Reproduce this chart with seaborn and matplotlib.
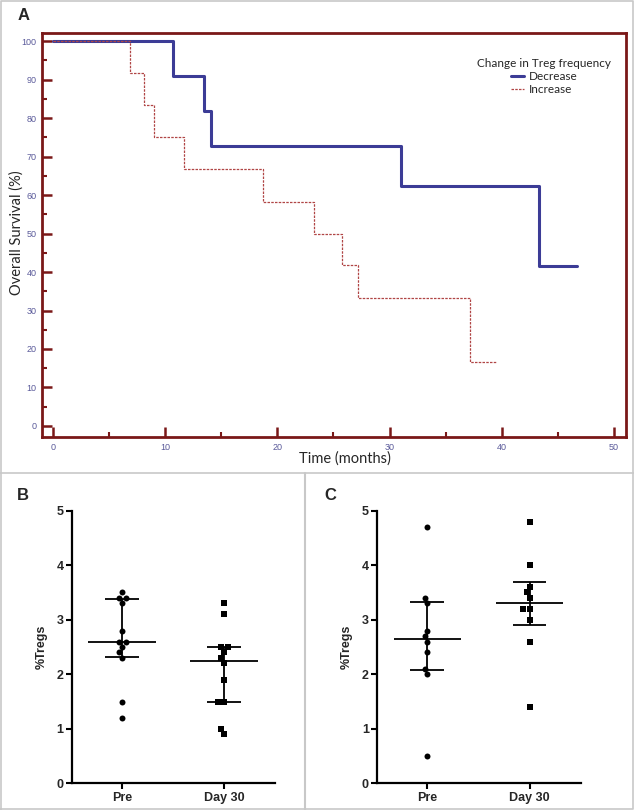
import numpy as np
import pandas as pd
import matplotlib
matplotlib.use('Agg')
import matplotlib.pyplot as plt
from matplotlib.lines import Line2D
import seaborn as sns

# panel A - Kaplan Meier steps (months, % survival)
dec_time = [0, 10.7, 13.5, 14.1, 31.0, 43.3, 46.7]
dec_surv = [100, 90.9, 81.8, 72.7, 62.3, 41.6, 41.6]
inc_time = [0, 6.9, 8.15, 9.0, 11.7, 18.7, 23.3, 25.8, 27.2, 37.2, 39.5]
inc_surv = [100, 91.7, 83.3, 75.0, 66.7, 58.3, 50.0, 41.7, 33.3, 16.7, 16.7]

# panel B - %Tregs
b_pre = [3.5, 3.4, 3.4, 3.3, 2.8, 2.6, 2.6, 2.5, 2.4, 2.3, 1.5, 1.2]
b_d30 = [3.3, 3.1, 2.5, 2.5, 2.4, 2.3, 2.2, 1.9, 1.5, 1.5, 1.0, 0.9]
# panel C - %Tregs
c_pre = [4.7, 3.4, 3.3, 2.8, 2.7, 2.6, 2.4, 2.1, 2.0, 0.5]
c_d30 = [4.8, 4.0, 3.6, 3.5, 3.4, 3.2, 3.2, 3.0, 2.6, 1.4]

groups = ['Pre', 'Day 30']

sns.set_style('white')
plt.rcParams['font.family'] = ['Liberation Sans', 'DejaVu Sans']

fig = plt.figure(figsize=(6.34, 8.10), dpi=100)

# ---- panel A ----
axA = fig.add_axes([0.0662, 0.4605, 0.9212, 0.4988])
km = pd.concat([
    pd.DataFrame({'Time': dec_time, 'Survival': dec_surv, 'Change': 'Decrease'}),
    pd.DataFrame({'Time': inc_time, 'Survival': inc_surv, 'Change': 'Increase'}),
])
sns.lineplot(data=km[km.Change == 'Decrease'], x='Time', y='Survival', ax=axA,
             color='#3c3c96', lw=2.2, drawstyle='steps-post', estimator=None,
             label='Decrease')
sns.lineplot(data=km[km.Change == 'Increase'], x='Time', y='Survival', ax=axA,
             color='#b04545', lw=0.9, linestyle=(0, (2, 1)), drawstyle='steps-post',
             estimator=None, label='Increase')
axA.set_xlim(-0.98, 51.07)
axA.set_ylim(-2.86, 102.1)
axA.set_xticks(range(0, 51, 10))
axA.set_xticks(range(5, 50, 10), minor=True)
axA.set_yticks(range(0, 101, 10))
axA.set_yticks(range(5, 100, 10), minor=True)
red = '#7a1818'
for s in axA.spines.values():
    s.set_color(red)
    s.set_linewidth(2)
axA.tick_params(which='major', direction='in', length=7, width=1.8, color=red,
                labelsize=6.5, labelcolor='#5a5a9a', pad=4, left=True, bottom=True)
axA.tick_params(which='minor', direction='in', length=3.5, width=1.5, color=red,
                left=True, bottom=True)
axA.set_xlabel('Time (months)', fontsize=10.5, family='Lato')
axA.set_ylabel('Overall Survival (%)', fontsize=10.5, family='Lato')
axA.xaxis.set_label_coords(0.519, -0.036)
axA.yaxis.set_label_coords(-0.031, 0.505)
leg = axA.legend(title='Change in Treg frequency', loc='upper right',
                 bbox_to_anchor=(0.993, 0.965), frameon=False,
                 title_fontsize=8.5, handlelength=1.1, handletextpad=0.4,
                 labelspacing=0.2, prop={'family': 'Lato', 'size': 8.5})
leg.get_title().set_family('Lato')

# ---- panels B and C ----
def scatter_panel(ax, pre, d30):
    df = pd.DataFrame({'Group': ['Pre'] * len(pre) + ['Day 30'] * len(d30),
                       'Tregs': pre + d30})
    sns.swarmplot(data=df[df.Group == 'Pre'], x='Group', y='Tregs', order=groups,
                  ax=ax, color='black', marker='o', size=4.3)
    sns.swarmplot(data=df[df.Group == 'Day 30'], x='Group', y='Tregs', order=groups,
                  ax=ax, color='black', marker='s', size=4.3)
    for i, g in enumerate(groups):
        vals = df.loc[df.Group == g, 'Tregs'].values
        q1, med, q3 = np.percentile(vals, [25, 50, 75], method='weibull')
        ax.hlines(med, i - 0.33, i + 0.33, color='black', lw=1.3)
        ax.hlines([q1, q3], i - 0.165, i + 0.165, color='black', lw=1.3)
        ax.vlines(i, q1, q3, color='black', lw=1.3)
    ax.set_xlim(-0.49, 1.5)
    ax.set_ylim(0, 5)
    ax.set_yticks(range(0, 6))
    sns.despine(ax=ax)
    for s in ['left', 'bottom']:
        ax.spines[s].set_linewidth(1.6)
        ax.spines[s].set_color('black')
    ax.tick_params(direction='out', length=4, width=1.5, color='black',
                   labelsize=9, pad=2, left=True, bottom=True)
    for t in ax.get_xticklabels() + ax.get_yticklabels():
        t.set_fontweight('bold')
    ax.set_xlabel('')
    ax.set_ylabel('%Tregs', fontsize=9, fontweight='bold')
    ax.yaxis.set_label_coords(-0.118, 0.5)
    ax.set_facecolor('white')

axB = fig.add_axes([0.1136, 0.0330, 0.3200, 0.3365])
scatter_panel(axB, b_pre, b_d30)
axC = fig.add_axes([0.5950, 0.0330, 0.3208, 0.3365])
scatter_panel(axC, c_pre, c_d30)

# panel letters
fig.text(0.028, 0.981, 'A', fontsize=12, fontweight='bold', va='center')
fig.text(0.027, 0.388, 'B', fontsize=12, fontweight='bold', va='center')
fig.text(0.511, 0.388, 'C', fontsize=12, fontweight='bold', va='center')

# grey frame and dividers
grey = '#c8c8c8'
fig.add_artist(Line2D([0.001, 0.999, 0.999, 0.001, 0.001], [0.001, 0.001, 0.999, 0.999, 0.001],
                      transform=fig.transFigure, color=grey, lw=1.2))
fig.add_artist(Line2D([0, 1], [0.416, 0.416], transform=fig.transFigure, color=grey, lw=1.2))
fig.add_artist(Line2D([0.481, 0.481], [0, 0.416], transform=fig.transFigure, color=grey, lw=1.5))

fig.savefig('out.png', dpi=100)
